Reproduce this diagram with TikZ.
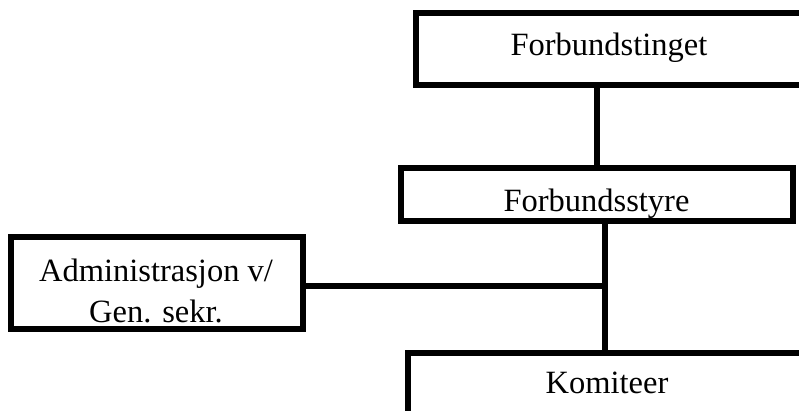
\documentclass[tikz,border=0pt]{standalone}
\usepackage{fontspec}
\setmainfont{Liberation Serif}
\begin{document}
\begin{tikzpicture}[x=1pt,y=-1pt,
  box/.style={draw, line width=6pt, rectangle, inner sep=0pt, fill=white},
  lbl/.style={font=\fontsize{32.5}{41}\selectfont, inner sep=0pt, align=center},
  conn/.style={line width=6pt}]
\useasboundingbox (0,0) rectangle (799,410);
\clip (0,0) rectangle (799,410);
% boxes
\node[box, minimum width=388pt, minimum height=72pt] (ting) at (610,49) {};
\node[box, minimum width=392pt, minimum height=52.5pt] (styre) at (597,194.5) {};
\node[box, minimum width=292pt, minimum height=92pt] (adm) at (156.5,283) {};
\node[box, minimum width=406pt, minimum height=140pt, anchor=north west] (kom) at (404.5,349.5) {};
% texts
\node[lbl, anchor=base] (tingt) at (609,55) {Forbundstinget};
\node[lbl, anchor=base] (styret) at (596.5,211) {Forbundsstyre};
\node[lbl] (admt) at (156,291) {Administrasjon v/\\Gen. sekr.};
\node[lbl, anchor=base] (komt) at (607,393) {Komiteer};
% connectors
\coordinate (x1) at (596.5,0);
\coordinate (j) at (604.5,286);
\draw[conn] (ting.south -| x1) -- (styre.north -| x1);
\draw[conn] (styre.south -| j) -- (kom.north -| j);
\draw[conn] (adm.east |- j) -- (j);
\end{tikzpicture}
\end{document}
